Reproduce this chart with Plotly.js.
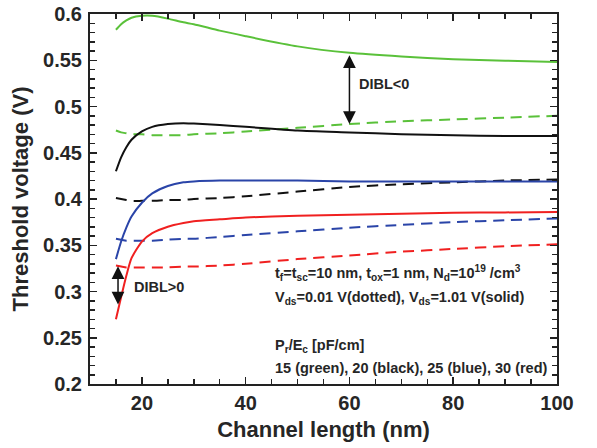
<!DOCTYPE html>
<html><head><meta charset="utf-8">
<script src="https://cdn.plot.ly/plotly-3.0.1.min.js"></script>
<style>body{margin:0;background:#fff}#c{width:597px;height:448px}</style>
</head><body><div id="c"></div>
<script>
const Lx = [15,16,17,18,20,22,25,28,30,35,40,50,60,70,80,90,100];
const greenSolid = [0.583,0.589,0.593,0.596,0.598,0.598,0.595,0.591,0.589,0.582,0.576,0.565,0.558,0.554,0.551,0.5495,0.548];
const greenDash  = [0.474,0.472,0.471,0.470,0.470,0.469,0.469,0.469,0.470,0.471,0.473,0.477,0.481,0.484,0.486,0.488,0.490];
const blackSolid = [0.430,0.445,0.456,0.464,0.473,0.478,0.481,0.482,0.4815,0.480,0.478,0.474,0.472,0.470,0.469,0.468,0.468];
const blackDash  = [0.401,0.400,0.399,0.398,0.398,0.398,0.399,0.399,0.400,0.401,0.403,0.408,0.413,0.416,0.418,0.420,0.421];
const blueSolid  = [0.335,0.354,0.369,0.381,0.396,0.406,0.414,0.418,0.419,0.420,0.420,0.420,0.419,0.419,0.419,0.419,0.419];
const blueDash   = [0.357,0.356,0.355,0.355,0.355,0.355,0.356,0.357,0.357,0.359,0.361,0.365,0.369,0.372,0.375,0.377,0.379];
const redSolid   = [0.270,0.294,0.317,0.336,0.354,0.363,0.370,0.374,0.376,0.378,0.380,0.382,0.383,0.384,0.385,0.3855,0.386];
const redDash    = [0.328,0.327,0.326,0.326,0.326,0.326,0.326,0.327,0.327,0.328,0.330,0.335,0.339,0.343,0.346,0.349,0.351];
const xTicks = [20,40,60,80,100];
const yTicks = [0.2,0.25,0.3,0.35,0.4,0.45,0.5,0.55,0.6];

const series = [
  {y: greenSolid, c:'#5ac13a', d:'solid'},
  {y: greenDash,  c:'#5ac13a', d:'dash'},
  {y: blackSolid, c:'#111111', d:'solid'},
  {y: blackDash,  c:'#111111', d:'dash'},
  {y: blueSolid,  c:'#2a44a8', d:'solid'},
  {y: blueDash,   c:'#2a44a8', d:'dash'},
  {y: redSolid,   c:'#f02020', d:'solid'},
  {y: redDash,    c:'#f02020', d:'dash'}
];
const traces = series.map(s => ({
  x: Lx, y: s.y, mode:'lines', type:'scatter', showlegend:false,
  line:{color:s.c, width:2, dash: s.d==='dash' ? '11px,7px' : 'solid', shape:'spline', smoothing:0.6}
}));

const tc = '#262626';
const fam = 'Liberation Sans, Arial, sans-serif';
const tf = {family:fam, size:14.5, color:tc};
const axBase = {
  showgrid:false, zeroline:false, showline:true, linecolor:'#222', linewidth:2,
  mirror:'allticks', ticks:'inside', ticklen:7, tickwidth:1.5, tickcolor:'#222',
  tickfont:{family:fam, size:20, color:tc}
};
const layout = {
  width:597, height:448,
  margin:{l:90, r:40, t:14, b:64},
  paper_bgcolor:'#fff', plot_bgcolor:'#fff',
  xaxis: Object.assign({}, axBase, {
    range:[10,100], tickvals:xTicks, ticktext:xTicks.map(v=>'<b>'+v+'</b>'),
    minor:{dtick:5, tick0:0, ticks:'inside', ticklen:5, tickcolor:'#222', tickwidth:1.5},
    title:{text:'<b>Channel length (nm)</b>', font:{family:fam, size:22, color:tc}, standoff:9}
  }),
  yaxis: Object.assign({}, axBase, {
    range:[0.2,0.6], tickvals:yTicks,
    ticktext:yTicks.map(v=>'<b>'+v+'</b>'),
    minor:{dtick:0.01, tick0:0, ticks:'inside', ticklen:5, tickcolor:'#222', tickwidth:1.5},
    ticklabelstandoff:2,
    title:{text:'<b>Threshold voltage (V)</b>', font:{family:fam, size:22, color:tc}, standoff:8}
  }),
  annotations:[
    {x:60, y:0.481, ax:60, ay:0.557, xref:'x', yref:'y', axref:'x', ayref:'y', text:'', showarrow:true,
     arrowhead:2, startarrowhead:2, arrowside:'end+start', arrowsize:1.7, arrowwidth:1.5, arrowcolor:'#111'},
    {x:61.5, y:0.524, xref:'x', yref:'y', text:'<b>DIBL<0</b>', showarrow:false, xanchor:'left', yanchor:'middle', font:tf},
    {x:15.4, y:0.286, ax:15.4, ay:0.329, xref:'x', yref:'y', axref:'x', ayref:'y', text:'', showarrow:true,
     arrowhead:2, startarrowhead:2, arrowside:'end+start', arrowsize:1.7, arrowwidth:1.5, arrowcolor:'#111'},
    {x:18.0, y:0.305, xref:'x', yref:'y', text:'<b>DIBL>0</b>', showarrow:false, xanchor:'left', yanchor:'middle', font:tf},
    {x:45.3, y:0.320, xref:'x', yref:'y', xanchor:'left', yanchor:'middle', showarrow:false, font:tf,
     text:'<b>t<sub>f</sub>=t<sub>sc</sub>=10 nm, t<sub>ox</sub>=1 nm, N<sub>d</sub>=10<sup>19</sup> /cm<sup>3</sup></b>'},
    {x:45.3, y:0.293, xref:'x', yref:'y', xanchor:'left', yanchor:'middle', showarrow:false, font:tf,
     text:'<b>V<sub>ds</sub>=0.01 V(dotted), V<sub>ds</sub>=1.01 V(solid)</b>'},
    {x:45.3, y:0.241, xref:'x', yref:'y', xanchor:'left', yanchor:'middle', showarrow:false, font:tf,
     text:'<b>P<sub>r</sub>/E<sub>c</sub> [pF/cm]</b>'},
    {x:45.3, y:0.217, xref:'x', yref:'y', xanchor:'left', yanchor:'middle', showarrow:false, font:tf,
     text:'<b>15 (green), 20 (black), 25 (blue), 30 (red)</b>'}
  ]
};
Plotly.newPlot('c', traces, layout, {displayModeBar:false, staticPlot:true});
</script></body></html>
